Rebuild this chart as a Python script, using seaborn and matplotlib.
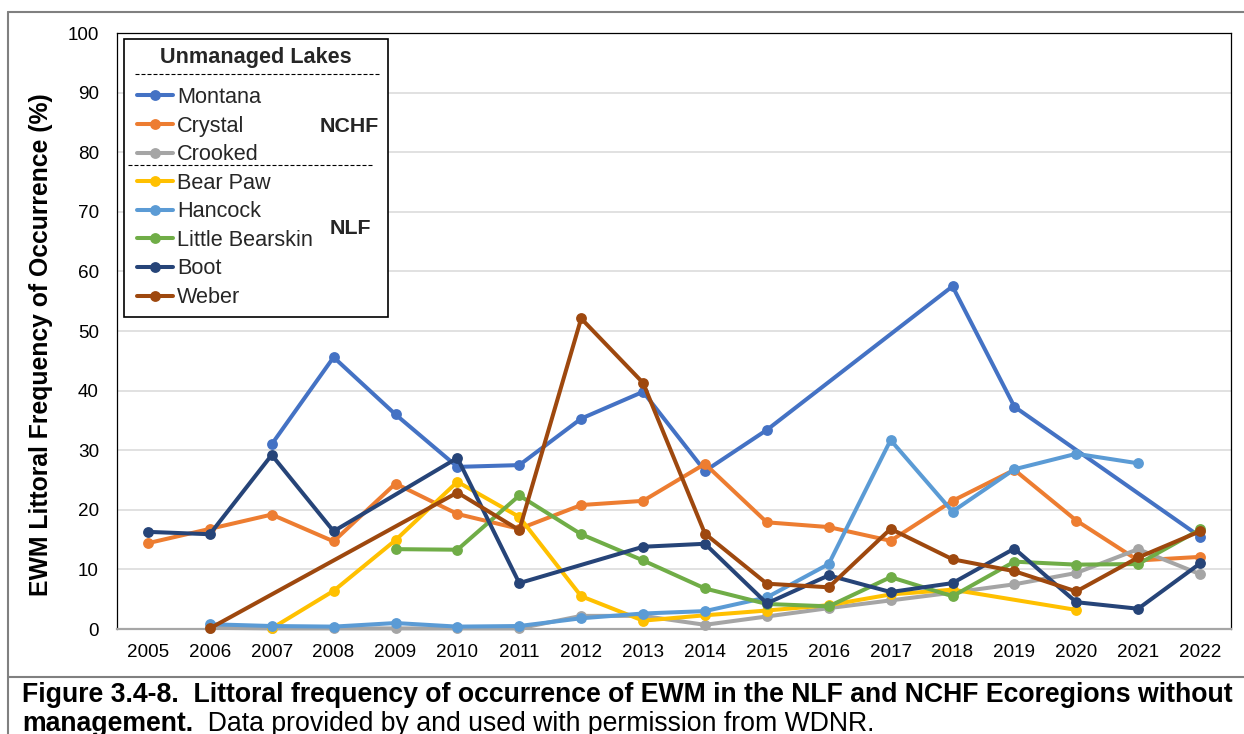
import numpy as np
import pandas as pd
import matplotlib
matplotlib.use("Agg")
import matplotlib.pyplot as plt
from matplotlib.lines import Line2D
from matplotlib.patches import Rectangle
import seaborn as sns

nan = np.nan

years = list(range(2005, 2023))

montana = [nan, nan, 31.0, 45.6, 36.0, 27.2, 27.5, 35.3, 39.8, 26.5, 33.4, nan, nan, 57.5, 37.3, nan, nan, 15.5]
crystal = [14.4, 16.8, 19.2, 14.7, 24.4, 19.3, 16.8, 20.8, 21.5, 27.7, 17.9, 17.1, 14.8, 21.5, 26.7, 18.2, 11.5, 12.1]
crooked = [nan, 0.2, 0.1, 0.1, 0.1, 0.1, 0.1, 2.2, 2.2, 0.7, 2.1, 3.5, 4.8, 6.1, 7.5, 9.4, 13.4, 9.2]
bear_paw = [nan, nan, 0.1, 6.4, 14.9, 24.7, 18.8, 5.5, 1.4, 2.3, 3.1, 4.0, 5.8, 6.6, nan, 3.2, nan, nan]
hancock = [nan, 0.8, 0.5, 0.4, 1.0, 0.4, 0.5, 1.8, 2.6, 3.0, 5.3, 10.9, 31.7, 19.7, 26.8, 29.4, 27.8, nan]
little_bearskin = [nan, nan, nan, nan, 13.4, 13.3, 22.4, 15.9, 11.5, 6.8, 4.2, 3.8, 8.7, 5.5, 11.3, 10.8, 10.9, 16.7]
boot = [16.3, 15.9, 29.2, 16.4, nan, 28.7, 7.7, nan, 13.8, 14.3, 4.3, 9.0, 6.2, 7.7, 13.5, 4.5, 3.4, 11.0]
weber = [nan, 0.1, nan, nan, nan, 22.9, 16.6, 52.1, 41.3, 16.0, 7.6, 7.0, 16.8, 11.7, 9.7, 6.3, 12.0, 16.4]

lakes = ["Montana", "Crystal", "Crooked", "Bear Paw", "Hancock", "Little Bearskin", "Boot", "Weber"]
series = [montana, crystal, crooked, bear_paw, hancock, little_bearskin, boot, weber]
colors = ["#4472C4", "#ED7D31", "#A5A5A5", "#FFC000", "#5B9BD5", "#70AD47", "#264478", "#9E480E"]

y_ticks = list(range(0, 101, 10))

legend_title = "Unmanaged Lakes"
group_labels = ["NCHF", "NLF"]
y_label = "EWM Littoral Frequency of Occurrence (%)"
caption_bold = "Figure 3.4-8.  Littoral frequency of occurrence of EWM in the NLF and NCHF Ecoregions without"
caption_bold2 = "management."
caption_rest = "  Data provided by and used with permission from WDNR."

# long-form table; missing survey years are dropped so lines bridge the gaps
rows = []
for lake, vals in zip(lakes, series):
    for yr, v in zip(years, vals):
        if not np.isnan(v):
            rows.append((lake, yr, v))
df = pd.DataFrame(rows, columns=["Lake", "Year", "Pct"])

sns.set_theme(style="white")
plt.rcParams["font.family"] = ["Liberation Sans", "DejaVu Sans"]

W, H = 1244, 734
fig = plt.figure(figsize=(W / 100, H / 100), dpi=100)


def fx(px):
    return px / W


def fy(py):
    return 1 - py / H


ax = fig.add_axes([fx(117), fy(629), fx(1231) - fx(117), fy(33) - fy(629)])

sns.lineplot(
    data=df, x="Year", y="Pct", hue="Lake", hue_order=lakes, palette=colors,
    marker="o", markersize=7.8, markeredgewidth=0, linewidth=2.9,
    estimator=None, errorbar=None, legend=False, ax=ax, clip_on=False, zorder=3,
)

ax.set_xlim(years[0] - 0.5, years[-1] + 0.5)
ax.set_ylim(0, 100)
ax.set_xticks(years)
ax.set_xticklabels([str(y) for y in years])
ax.set_yticks(y_ticks)
ax.set_xlabel("")
ax.set_ylabel("")
ax.grid(False)
ax.yaxis.grid(True, color="#D9D9D9", linewidth=1.1)
ax.set_axisbelow(True)
ax.tick_params(axis="both", length=0, labelsize=13.6, colors="black")
ax.tick_params(axis="x", pad=11)
ax.tick_params(axis="y", pad=13)

for side in ["left", "top", "right"]:
    ax.spines[side].set_color("black")
    ax.spines[side].set_linewidth(0.9)
ax.spines["bottom"].set_color("#A6A6A6")
ax.spines["bottom"].set_linewidth(1.6)

fig.text(fx(41), fy(345), y_label, rotation=90, ha="center", va="center",
         fontsize=17.8, fontweight="bold", color="black")

# legend panel
fig.patches.append(Rectangle((fx(124), fy(317)), fx(388) - fx(124), fy(39) - fy(317),
                             transform=fig.transFigure, facecolor="white",
                             edgecolor="black", linewidth=1.2, zorder=4))
handles = ax.get_lines()[:len(lakes)]
fig.legend(handles, lakes, loc="upper left", bbox_to_anchor=(fx(137), fy(87)),
           bbox_transform=fig.transFigure, frameon=False, fontsize=15.6,
           handlelength=1.66, handletextpad=0.18, labelspacing=0.35,
           borderpad=0, borderaxespad=0).set_zorder(5)
fig.text(fx(256), fy(57), legend_title, ha="center", va="center", fontsize=15.6,
         fontweight="bold", zorder=6)
for x0, x1, yy in [(135, 380, 74), (128, 372, 165)]:
    fig.add_artist(Line2D([fx(x0), fx(x1)], [fy(yy), fy(yy)], transform=fig.transFigure,
                          color="black", linewidth=0.8, linestyle=(0, (3.6, 1.8)), zorder=6))
fig.text(fx(349.5), fy(126), group_labels[0], ha="center", va="center", fontsize=15.4,
         fontweight="bold", zorder=6)
fig.text(fx(350), fy(229), group_labels[1], ha="center", va="center", fontsize=15.4,
         fontweight="bold", zorder=6)

# outer frame and caption divider
frame_kw = dict(transform=fig.transFigure, color="#808080", linewidth=1.5, zorder=6)
fig.add_artist(Line2D([fx(8), fx(8)], [fy(12), fy(734)], **frame_kw))
fig.add_artist(Line2D([fx(8), fx(1244)], [fy(12), fy(12)], **frame_kw))
fig.add_artist(Line2D([fx(8), fx(1244)], [fy(677), fy(677)], **frame_kw))

fig.text(fx(22), fy(702), caption_bold, ha="left", va="baseline", fontsize=19.2,
         fontweight="bold", color="black")
t2 = fig.text(fx(22), fy(731), caption_bold2, ha="left", va="baseline", fontsize=19.2,
              fontweight="bold", color="black")
renderer = fig.canvas.get_renderer()
bb = t2.get_window_extent(renderer=renderer)
fig.text(bb.x1 / W, fy(731), caption_rest, ha="left", va="baseline", fontsize=19.2,
         color="black")

fig.savefig("out.png", dpi=100)
